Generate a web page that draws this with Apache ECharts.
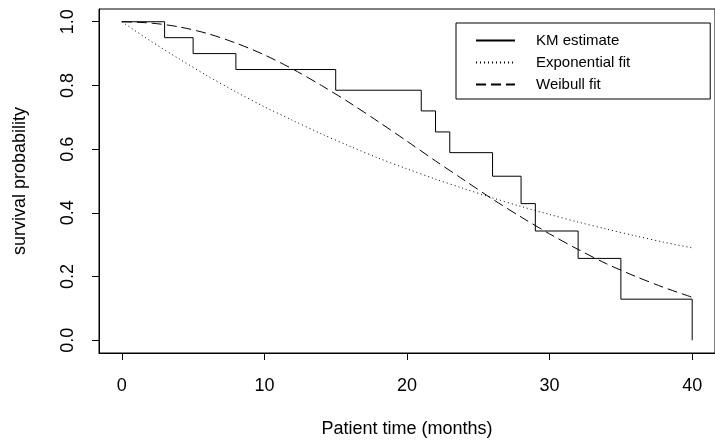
<!DOCTYPE html>
<html>
<head>
<meta charset="utf-8">
<script src="https://cdn.jsdelivr.net/npm/echarts@6/dist/echarts.min.js"></script>
<style>
  html, body { margin: 0; padding: 0; background: #fff; }
  #chart { width: 715px; height: 443px; }
</style>
</head>
<body>
<div id="chart"></div>
<script>
// Kaplan-Meier steps (time in months, survival)
const kmTimes = [0, 3, 5, 8, 15, 21, 22, 23, 26, 28, 29, 32, 35, 40]
const kmSurv = [1.0, 0.95, 0.90, 0.85, 0.785, 0.72, 0.654, 0.589, 0.515, 0.429, 0.343, 0.257, 0.129, 0.0]

// fitted curves every 2 months
const fitTimes = [0, 2, 4, 6, 8, 10, 12, 14, 16, 18, 20, 22, 24, 26, 28, 30, 32, 34, 36, 38, 40]
const expSurv = [1.0, 0.94, 0.884, 0.83, 0.78, 0.733, 0.69, 0.648, 0.609, 0.572, 0.538, 0.506, 0.476, 0.447, 0.42, 0.395, 0.371, 0.349, 0.328, 0.308, 0.29]
const weibSurv = [1.0, 0.996, 0.984, 0.963, 0.933, 0.896, 0.851, 0.8, 0.745, 0.686, 0.625, 0.563, 0.503, 0.443, 0.387, 0.334, 0.285, 0.24, 0.201, 0.166, 0.135]

const xTicks = [0, 10, 20, 30, 40]
const yTicks = [0, 0.2, 0.4, 0.6, 0.8, 1.0]

const font = 'Liberation Sans, Arial, Helvetica, sans-serif'
const pairs = (xs, ys) => xs.map((x, i) => [x, ys[i]])

const chart = echarts.init(document.getElementById('chart'))
chart.setOption({
  animation: false,
  backgroundColor: '#fff',
  grid: {
    left: 99, top: 9, right: -10, bottom: 86,
    show: true, borderColor: '#000', borderWidth: 1
  },
  xAxis: {
    type: 'value',
    min: -1.6, max: 41.6,
    splitLine: {show: false},
    axisLine: {show: true, onZero: false, lineStyle: {color: '#000', width: 1}},
    axisTick: {show: true, customValues: xTicks, length: 7, lineStyle: {color: '#000', width: 1}},
    axisLabel: {
      customValues: xTicks, margin: 24,
      color: '#000', fontSize: 18, fontFamily: font
    },
    name: 'Patient time (months)',
    nameLocation: 'middle', nameGap: 67,
    nameTextStyle: {color: '#000', fontSize: 18, fontFamily: font}
  },
  yAxis: {
    type: 'value',
    min: -0.04, max: 1.04,
    splitLine: {show: false},
    axisLine: {show: true, onZero: false, lineStyle: {color: '#000', width: 1}},
    axisTick: {show: true, customValues: yTicks, length: 7, lineStyle: {color: '#000', width: 1}},
    axisLabel: {
      customValues: yTicks, margin: 22, rotate: 90,
      formatter: v => v.toFixed(1),
      color: '#000', fontSize: 18, fontFamily: font
    },
    name: 'survival probability',
    nameLocation: 'middle', nameGap: 70, nameRotate: 90,
    nameTextStyle: {color: '#000', fontSize: 18, fontFamily: font}
  },
  legend: {
    left: 456, top: 23,
    orient: 'vertical',
    itemWidth: 39, itemHeight: 14, itemGap: 7,
    padding: [10, 80, 7, 19],
    borderColor: '#000', borderWidth: 1,
    itemStyle: {color: 'rgba(0,0,0,0)', borderColor: 'rgba(0,0,0,0)', borderWidth: 0},
    textStyle: {color: '#000', fontSize: 15, fontFamily: font, padding: [0, 0, 0, 16]},
    data: ['KM estimate', 'Exponential fit', 'Weibull fit']
  },
  series: [
    {
      name: 'KM estimate', type: 'line', step: 'end',
      data: pairs(kmTimes, kmSurv),
      symbol: 'none', color: '#000',
      lineStyle: {color: '#000', width: 1}
    },
    {
      name: 'Exponential fit', type: 'line', smooth: 0.3,
      data: pairs(fitTimes, expSurv),
      symbol: 'none', color: '#000',
      lineStyle: {color: '#000', width: 1, type: [1, 3]}
    },
    {
      name: 'Weibull fit', type: 'line', smooth: 0.3,
      data: pairs(fitTimes, weibSurv),
      symbol: 'none', color: '#000',
      lineStyle: {color: '#000', width: 1, type: [10, 5]}
    }
  ]
})
</script>
</body>
</html>
